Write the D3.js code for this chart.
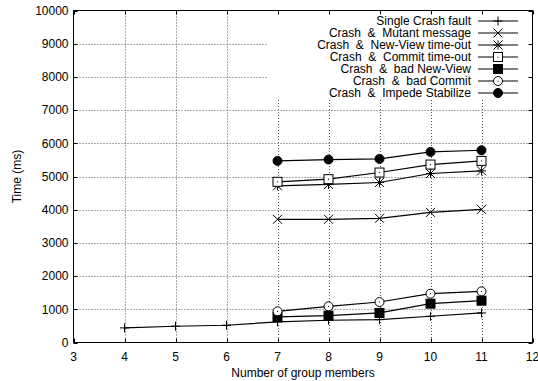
<!DOCTYPE html>
<html>
<head>
<meta charset="utf-8">
<script src="https://cdn.jsdelivr.net/npm/d3@7"></script>
<style>
  body { margin: 0; background: #fff; }
  svg { display: block; font-family: "Liberation Sans", Arial, sans-serif; }
</style>
</head>
<body>
<figure id="chart" style="margin:0"></figure>
<script>
// group sizes
const xSingle = [4, 5, 6, 7, 8, 9, 10, 11];
const xGroup = [7, 8, 9, 10, 11];

// measured times (ms)
const singleCrash = [440, 490, 520, 620, 670, 690, 790, 890];
const mutantMsg = [3710, 3710, 3740, 3920, 4010];
const newViewTimeout = [4720, 4760, 4820, 5090, 5170];
const commitTimeout = [4840, 4920, 5120, 5360, 5470];
const badNewView = [770, 810, 890, 1170, 1260];
const badCommit = [940, 1090, 1220, 1470, 1540];
const impedeStab = [5470, 5510, 5530, 5740, 5790];

const xTicks = [3, 4, 5, 6, 7, 8, 9, 10, 11, 12];
const yTicks = [0, 1000, 2000, 3000, 4000, 5000, 6000, 7000, 8000, 9000, 10000];

const seriesList = [
  { name: 'Single Crash fault', xs: xSingle, ys: singleCrash, marker: 'plus' },
  { name: 'Crash  &  Mutant message', xs: xGroup, ys: mutantMsg, marker: 'cross' },
  { name: 'Crash  &  New-View time-out', xs: xGroup, ys: newViewTimeout, marker: 'star' },
  { name: 'Crash  &  Commit time-out', xs: xGroup, ys: commitTimeout, marker: 'box' },
  { name: 'Crash  &  bad New-View', xs: xGroup, ys: badNewView, marker: 'fbox' },
  { name: 'Crash  &  bad Commit', xs: xGroup, ys: badCommit, marker: 'circle' },
  { name: 'Crash  &  Impede Stabilize', xs: xGroup, ys: impedeStab, marker: 'fcircle' }
];

const width = 538;
const height = 381;
const pLeft = 73.5, pRight = 532.5, pTop = 10.5, pBottom = 342.5;

const x = d3.scaleLinear().domain([3, 12]).range([pLeft, pRight]);
const y = d3.scaleLinear().domain([0, 10000]).range([pBottom, pTop]);

const svg = d3.select('#chart')
  .append('svg')
  .attr('width', width)
  .attr('height', height)
  .attr('font-size', 12);

// legend box (grid is boxed out under the key)
const legendBox = { x0: 268, y0: pTop, x1: pRight, y1: 100 };

// grid
const grid = svg.append('g')
  .attr('stroke', '#555')
  .attr('stroke-width', 1)
  .attr('stroke-dasharray', '1,2');

yTicks.slice(1, -1).forEach(v => {
  const yy = Math.round(y(v)) + 0.5;
  const x1 = yy < legendBox.y1 ? legendBox.x0 : pRight;
  grid.append('line').attr('x1', pLeft).attr('x2', x1).attr('y1', yy).attr('y2', yy);
});
xTicks.slice(1, -1).forEach(v => {
  const xx = Math.round(x(v)) + 0.5;
  const y0 = xx > legendBox.x0 ? legendBox.y1 : pTop;
  grid.append('line').attr('x1', xx).attr('x2', xx).attr('y1', y0).attr('y2', pBottom);
});

// ticks on all four sides, pointing inward
const tickLen = 4;
const ticks = svg.append('g').attr('stroke', '#000').attr('stroke-width', 1);
yTicks.forEach(v => {
  const yy = Math.round(y(v)) + 0.5;
  ticks.append('line').attr('x1', pLeft).attr('x2', pLeft + tickLen).attr('y1', yy).attr('y2', yy);
  ticks.append('line').attr('x1', pRight).attr('x2', pRight - tickLen).attr('y1', yy).attr('y2', yy);
});
xTicks.forEach(v => {
  const xx = Math.round(x(v)) + 0.5;
  ticks.append('line').attr('x1', xx).attr('x2', xx).attr('y1', pBottom).attr('y2', pBottom - tickLen);
  ticks.append('line').attr('x1', xx).attr('x2', xx).attr('y1', pTop).attr('y2', pTop + tickLen);
});

// border
svg.append('rect')
  .attr('x', pLeft).attr('y', pTop)
  .attr('width', pRight - pLeft).attr('height', pBottom - pTop)
  .attr('fill', 'none').attr('stroke', '#000').attr('stroke-width', 1);

// tick labels
svg.append('g').selectAll('text')
  .data(yTicks)
  .join('text')
  .attr('x', pLeft - 5)
  .attr('y', d => y(d))
  .attr('dy', '0.35em')
  .attr('text-anchor', 'end')
  .text(d => d);

svg.append('g').selectAll('text')
  .data(xTicks)
  .join('text')
  .attr('x', d => x(d))
  .attr('y', pBottom + 18)
  .attr('text-anchor', 'middle')
  .text(d => d);

// axis titles
svg.append('text')
  .attr('x', (pLeft + pRight) / 2)
  .attr('y', 377)
  .attr('text-anchor', 'middle')
  .text('Number of group members');

svg.append('text')
  .attr('transform', `translate(21,${(pTop + pBottom) / 2}) rotate(-90)`)
  .attr('text-anchor', 'middle')
  .text('Time (ms)');

// markers
const ms = 4.5;
function drawMarker(g, type, cx, cy) {
  const p = g.append('g').attr('transform', `translate(${cx},${cy})`)
    .attr('stroke', '#000').attr('stroke-width', 1);
  if (type === 'plus' || type === 'star') {
    p.append('path').attr('d', `M${-ms},0H${ms}M0,${-ms}V${ms}`);
  }
  if (type === 'cross' || type === 'star') {
    p.append('path').attr('d', `M${-ms},${-ms}L${ms},${ms}M${-ms},${ms}L${ms},${-ms}`);
  }
  if (type === 'box' || type === 'fbox') {
    p.append('rect').attr('x', -ms).attr('y', -ms).attr('width', 2 * ms).attr('height', 2 * ms)
      .attr('fill', type === 'fbox' ? '#000' : '#fff');
    if (type === 'box') p.append('circle').attr('r', 0.6).attr('fill', '#000').attr('stroke', 'none');
  }
  if (type === 'circle' || type === 'fcircle') {
    p.append('circle').attr('r', ms)
      .attr('fill', type === 'fcircle' ? '#000' : '#fff');
    if (type === 'circle') p.append('circle').attr('r', 0.6).attr('fill', '#000').attr('stroke', 'none');
  }
}

const line = d3.line().x(d => x(d[0])).y(d => y(d[1]));

const plot = svg.append('g');
seriesList.forEach(s => {
  const pts = s.xs.map((v, i) => [v, s.ys[i]]);
  plot.append('path')
    .attr('d', line(pts))
    .attr('fill', 'none')
    .attr('stroke', '#000')
    .attr('stroke-width', 1.2);
  pts.forEach(p => drawMarker(plot, s.marker, x(p[0]), y(p[1])));
});

// legend
const legend = svg.append('g');
seriesList.forEach((s, i) => {
  const ly = 21 + i * 12;
  legend.append('text')
    .attr('x', 471)
    .attr('y', ly)
    .attr('dy', '0.35em')
    .attr('text-anchor', 'end')
    .attr('xml:space', 'preserve')
    .style('white-space', 'pre')
    .text(s.name);
  legend.append('line')
    .attr('x1', 478).attr('x2', 518).attr('y1', ly).attr('y2', ly)
    .attr('stroke', '#000').attr('stroke-width', 1.2);
  drawMarker(legend, s.marker, 498, ly);
});
</script>
</body>
</html>
